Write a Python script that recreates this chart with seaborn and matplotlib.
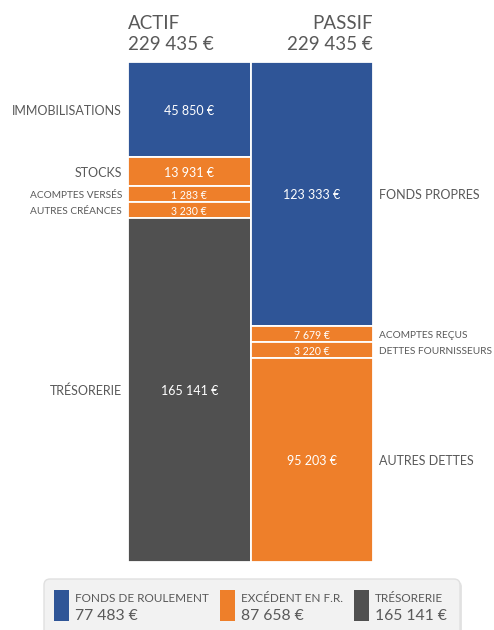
import numpy as np
import pandas as pd
import seaborn as sns
import matplotlib.pyplot as plt
from matplotlib.patches import FancyBboxPatch, Rectangle

# balance sheet
actif_items = ["IMMOBILISATIONS", "STOCKS", "ACOMPTES VERSÉS", "AUTRES CRÉANCES", "TRÉSORERIE"]
actif_values = [45850, 13931, 1283, 3230, 165141]
actif_groups = ["fr", "bfr", "bfr", "bfr", "treso"]

passif_items = ["FONDS PROPRES", "ACOMPTES REÇUS", "DETTES FOURNISSEURS", "AUTRES DETTES"]
passif_values = [123333, 7679, 3220, 95203]
passif_groups = ["fr", "bfr", "bfr", "bfr"]

legend_labels = ["FONDS DE ROULEMENT", "EXCÉDENT EN F.R.", "TRÉSORERIE"]
legend_values = [77483, 87658, 165141]
legend_groups = ["fr", "bfr", "treso"]

colors = {"fr": "#2F5597", "bfr": "#EE7F2A", "treso": "#505050"}
grey_txt = "#595959"

sns.set_theme(style="white")
plt.rcParams["font.family"] = ["Lato", "DejaVu Sans"]


def euro(v):
    return f"{v:,}".replace(",", " ") + " €"


def display_heights(values, floor_share=0.032):
    # tiny segments get a minimum height so their labels fit
    v = np.array(values, dtype=float)
    total = v.sum()
    floor = floor_share * total
    small = v < floor
    h = v.copy()
    h[small] = floor
    h[~small] = v[~small] * (total - floor * small.sum()) / v[~small].sum()
    return h


rows = []
for col, items, values, groups in [("ACTIF", actif_items, actif_values, actif_groups),
                                   ("PASSIF", passif_items, passif_values, passif_groups)]:
    h = display_heights(values)
    bottoms = np.cumsum(h) - h
    for it, v, g, hh, b in zip(items, values, groups, h, bottoms):
        rows.append(dict(col=col, item=it, value=v, group=g, height=hh, bottom=b))
df = pd.DataFrame(rows)
total = sum(actif_values)

W, H = 494, 630
fig = plt.figure(figsize=(W / 100, H / 100), dpi=100)

# overlay in pixel coords for headers and legend
ov = fig.add_axes([0, 0, 1, 1])
ov.set_xlim(0, W)
ov.set_ylim(H, 0)
ov.axis("off")

ax = fig.add_axes([128 / W, (H - 562) / H, 245 / W, 500 / H])
for _, r in df.iterrows():
    sns.barplot(x=[r["col"]], y=[r["height"]], bottom=r["bottom"], order=["ACTIF", "PASSIF"],
                color=colors[r["group"]], saturation=1, width=1, errorbar=None,
                edgecolor="white", linewidth=1.3, ax=ax)
ax.set_xlim(-0.5, 1.5)
ax.set_ylim(total, 0)
ax.axis("off")

for _, r in df.iterrows():
    xi = 0 if r["col"] == "ACTIF" else 1
    yc = r["bottom"] + r["height"] / 2
    small = r["height"] < 0.05 * total
    ax.text(xi, yc, euro(r["value"]), ha="center", va="center_baseline", color="white",
            fontsize=7.6 if small else 9)
    if xi == 0:
        ax.text(-0.55, yc, r["item"], ha="right", va="center_baseline", color=grey_txt,
                fontsize=7.3 if small else 9)
    else:
        ax.text(1.55, yc, r["item"], ha="left", va="center_baseline", color=grey_txt,
                fontsize=7.3 if small else 9)

# headers
ov.text(128, 29, "ACTIF", ha="left", va="baseline", fontsize=13.5, color=grey_txt)
ov.text(128, 50, euro(sum(actif_values)), ha="left", va="baseline", fontsize=13.5, color=grey_txt)
ov.text(373, 29, "PASSIF", ha="right", va="baseline", fontsize=13.5, color=grey_txt)
ov.text(373, 50, euro(sum(passif_values)), ha="right", va="baseline", fontsize=13.5, color=grey_txt)

# legend box with a faint shadow
ov.add_patch(FancyBboxPatch((46, 581), 416, 70, boxstyle="round,pad=0,rounding_size=6",
                            facecolor="#E4E4E4", edgecolor="none"))
ov.add_patch(FancyBboxPatch((44, 579), 416, 70, boxstyle="round,pad=0,rounding_size=6",
                            facecolor="#F2F2F2", edgecolor="#E0E0E0", linewidth=1))
for x0, lab, val, g in zip([54, 220, 354], legend_labels, legend_values, legend_groups):
    ov.add_patch(Rectangle((x0, 590), 15, 31, facecolor=colors[g], edgecolor="none"))
    ov.text(x0 + 21, 602, lab, ha="left", va="baseline", fontsize=8.5, color=grey_txt)
    ov.text(x0 + 21, 620, euro(val), ha="left", va="baseline", fontsize=11.3, color=grey_txt)

fig.savefig("out.png", dpi=100)
